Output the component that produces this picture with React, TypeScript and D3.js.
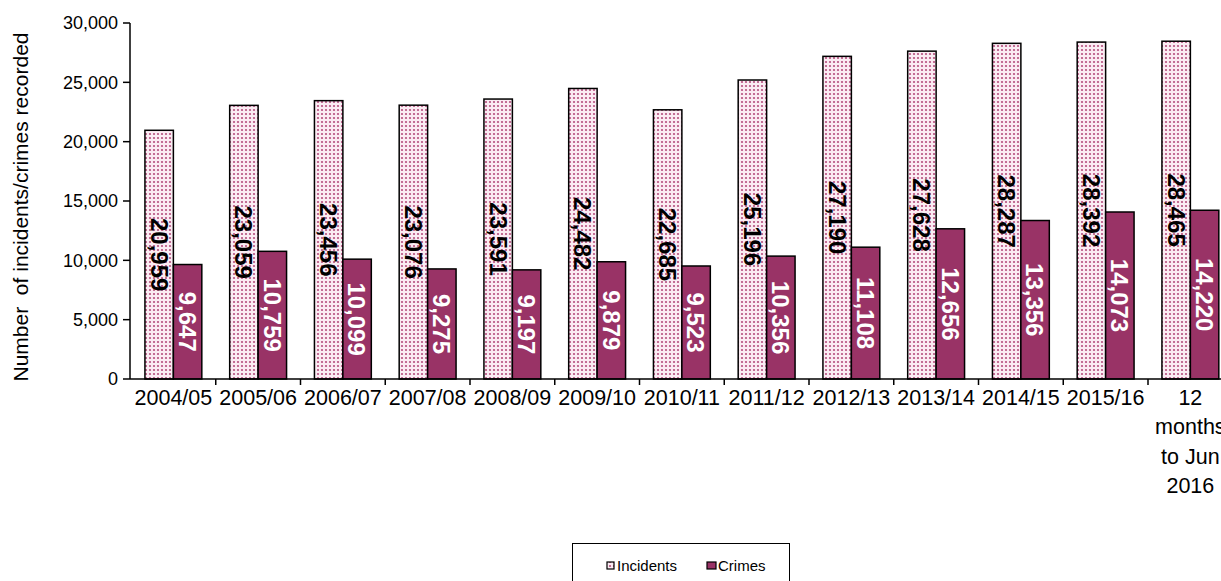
import React, { useEffect, useRef } from 'react';
import * as d3 from 'd3';

const categories = ['2004/05', '2005/06', '2006/07', '2007/08', '2008/09', '2009/10', '2010/11', '2011/12', '2012/13', '2013/14', '2014/15', '2015/16', '12\nmonths\nto Jun\n2016'];
const incidents = [20959, 23059, 23456, 23076, 23591, 24482, 22685, 25196, 27190, 27628, 28287, 28392, 28465];
const crimes = [9647, 10759, 10099, 9275, 9197, 9879, 9523, 10356, 11108, 12656, 13356, 14073, 14220];
const seriesNames = ['Incidents', 'Crimes'];
const yTicks = [0, 5000, 10000, 15000, 20000, 25000, 30000];

const W = 1221;
const H = 581;
const FONT = 'Arial, "Liberation Sans", sans-serif';
const PLUM = '#993366';

const App: React.FC = () => {
  const svgRef = useRef<SVGSVGElement | null>(null);

  useEffect(() => {
    if (!svgRef.current) return;
    const svg = d3.select(svgRef.current);
    svg.selectAll('*').remove();

    const margin = { left: 131, top: 23, bottom: 379 };

    const defs = svg.append('defs');
    const pat = defs.append('pattern')
      .attr('id', 'dots')
      .attr('patternUnits', 'userSpaceOnUse')
      .attr('width', 4)
      .attr('height', 4);
    pat.append('rect').attr('width', 4).attr('height', 4).attr('fill', '#fbecf3');
    pat.append('circle').attr('cx', 2).attr('cy', 2).attr('r', 1.1).attr('fill', '#b5507f');

    const x = d3.scaleBand<string>()
      .domain(categories)
      .range([margin.left, margin.left + 84.75 * categories.length]);

    const xs = d3.scaleBand<string>()
      .domain(seriesNames)
      .range([0, x.bandwidth()])
      .paddingOuter(0.49);

    const y = d3.scaleLinear()
      .domain([0, 30000])
      .range([margin.bottom, margin.top]);

    const rows = categories.map((c, i) => ({ c, inc: incidents[i], cr: crimes[i] }));

    const g = svg.append('g');

    g.selectAll('rect.inc')
      .data(rows)
      .join('rect')
      .attr('class', 'inc')
      .attr('x', d => (x(d.c) || 0) + (xs('Incidents') || 0))
      .attr('y', d => y(d.inc))
      .attr('width', xs.bandwidth())
      .attr('height', d => y(0) - y(d.inc))
      .attr('fill', 'url(#dots)')
      .attr('stroke', '#000')
      .attr('stroke-width', 1.5);

    g.selectAll('rect.cr')
      .data(rows)
      .join('rect')
      .attr('class', 'cr')
      .attr('x', d => (x(d.c) || 0) + (xs('Crimes') || 0))
      .attr('y', d => y(d.cr))
      .attr('width', xs.bandwidth())
      .attr('height', d => y(0) - y(d.cr))
      .attr('fill', PLUM)
      .attr('stroke', '#000')
      .attr('stroke-width', 1.5);

    const fmt = d3.format(',');

    // value labels, rotated
    const addLabels = (key: 'inc' | 'cr', series: string, color: string) => {
      g.selectAll(`text.l${key}`)
        .data(rows)
        .join('text')
        .attr('class', `l${key}`)
        .attr('transform', d => {
          const cx = (x(d.c) || 0) + (xs(series) || 0) + xs.bandwidth() / 2;
          const cy = (y(d[key]) + y(0)) / 2;
          return `translate(${cx},${cy}) rotate(90)`;
        })
        .attr('text-anchor', 'middle')
        .attr('dy', '0.36em')
        .attr('font-family', FONT)
        .attr('font-weight', 'bold')
        .attr('font-size', 24)
        .attr('fill', color)
        .text(d => fmt(d[key]));
    };
    addLabels('inc', 'Incidents', '#000');
    addLabels('cr', 'Crimes', '#fff');

    // y axis
    const ya = svg.append('g').attr('transform', `translate(${margin.left - 1},0)`);
    ya.append('line')
      .attr('y1', y(30000)).attr('y2', y(0))
      .attr('stroke', '#000').attr('stroke-width', 1.5);
    ya.selectAll('line.t')
      .data(yTicks)
      .join('line')
      .attr('class', 't')
      .attr('x1', -7).attr('x2', 0)
      .attr('y1', d => y(d)).attr('y2', d => y(d))
      .attr('stroke', '#000').attr('stroke-width', 1.5);
    ya.selectAll('text')
      .data(yTicks)
      .join('text')
      .attr('x', -12)
      .attr('y', d => y(d))
      .attr('dy', '0.35em')
      .attr('text-anchor', 'end')
      .attr('font-family', FONT)
      .attr('font-size', 18)
      .text(d => fmt(d));

    // x axis
    const xa = svg.append('g');
    xa.append('line')
      .attr('x1', margin.left - 1).attr('x2', W + 20)
      .attr('y1', y(0)).attr('y2', y(0))
      .attr('stroke', '#000').attr('stroke-width', 1.5);
    xa.selectAll('line.t')
      .data(categories)
      .join('line')
      .attr('class', 't')
      .attr('x1', d => (x(d) || 0) + x.bandwidth())
      .attr('x2', d => (x(d) || 0) + x.bandwidth())
      .attr('y1', y(0)).attr('y2', y(0) + 6)
      .attr('stroke', '#000').attr('stroke-width', 1.5);
    xa.selectAll('text')
      .data(categories)
      .join('text')
      .attr('text-anchor', 'middle')
      .attr('font-family', FONT)
      .attr('font-size', 21.5)
      .each(function (d) {
        const t = d3.select(this);
        const cx = (x(d) || 0) + x.bandwidth() / 2;
        d.split('\n').forEach((line, i) => {
          t.append('tspan')
            .attr('x', cx)
            .attr('y', 405 + i * 29.3)
            .text(line);
        });
      });

    // y title
    svg.append('text')
      .attr('transform', `translate(21,${(y(0) + y(30000)) / 2 + 6}) rotate(-90)`)
      .attr('text-anchor', 'middle')
      .attr('dy', '0.35em')
      .attr('font-family', FONT)
      .attr('font-size', 21)
      .attr('xml:space', 'preserve')
      .style('white-space', 'pre')
      .text('Number  of incidents/crimes recorded');

    // legend
    const lg = svg.append('g');
    lg.append('rect')
      .attr('x', 572.5).attr('y', 543.5)
      .attr('width', 217).attr('height', 60)
      .attr('fill', '#fff').attr('stroke', '#000').attr('stroke-width', 1);
    const items = [
      { name: seriesNames[0], fill: 'url(#dots)', x: 607 },
      { name: seriesNames[1], fill: PLUM, x: 707 },
    ];
    items.forEach(it => {
      lg.append('rect')
        .attr('x', it.x).attr('y', 562)
        .attr('width', it.name === 'Crimes' ? 9 : 7).attr('height', 7)
        .attr('fill', it.fill).attr('stroke', '#000').attr('stroke-width', 1.2);
      lg.append('text')
        .attr('x', it.x + (it.name === 'Crimes' ? 11 : 10))
        .attr('y', 571)
        .attr('font-family', FONT)
        .attr('font-size', 15)
        .text(it.name);
    });
  }, []);

  return (
    <svg
      ref={svgRef}
      width={W}
      height={H}
      style={{ position: 'absolute', left: 0, top: 0, background: '#fff' }}
    />
  );
};

export default App;
